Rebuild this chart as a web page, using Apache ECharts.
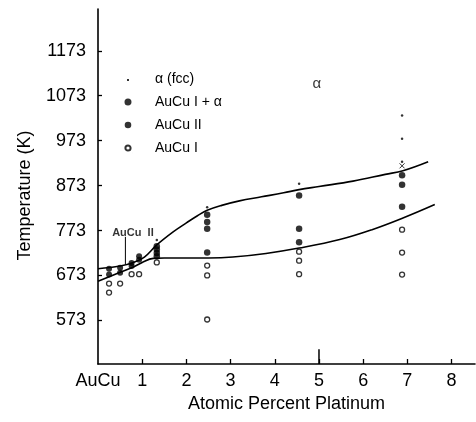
<!DOCTYPE html>
<html>
<head>
<meta charset="utf-8">
<script src="https://cdn.jsdelivr.net/npm/echarts@6/dist/echarts.min.js"></script>
<style>
html,body{margin:0;padding:0;background:#fff;}
#chart{width:476px;height:422px;}
</style>
</head>
<body>
<div id="chart"></div>
<script>
// ---- data ----
const xTicks = [0, 1, 2, 3, 4, 5, 6, 7, 8];
const xTickLabels = ['AuCu', '1', '2', '3', '4', '5', '6', '7', '8'];
const yTicks = [573, 673, 773, 873, 973, 1073, 1173];

const alphaFcc = [[1.33, 752], [2.47, 825], [4.55, 877], [6.88, 1029], [6.88, 977], [6.88, 926]];
const auCuIAlpha = [[1.33, 738], [1.33, 731], [1.33, 723], [1.33, 716], [2.47, 808], [2.47, 792], [2.47, 777], [2.47, 724],
  [4.55, 851], [4.55, 777], [4.55, 747], [6.88, 896], [6.88, 875], [6.88, 826]];
const auCuII = [[0.25, 688], [0.25, 675], [0.5, 690], [0.5, 679], [0.76, 701], [0.76, 694], [0.93, 708], [0.93, 716]];
const auCuI = [[0.25, 655], [0.25, 635], [0.5, 655], [0.76, 676], [0.93, 676], [1.33, 702], [2.47, 695], [2.47, 673], [2.47, 575],
  [4.55, 726], [4.55, 706], [4.55, 676], [6.88, 775], [6.88, 724], [6.88, 675]];
const crossMarks = [[6.88, 917]];

const upperBoundary = [[0, 688], [0.5, 694], [0.8, 702], [1.05, 714], [1.33, 741], [1.7, 770], [2.0, 790], [2.25, 806], [2.47, 818],
  [2.8, 829], [3.2, 839], [3.7, 848], [4.2, 857], [4.55, 864], [5.0, 871], [5.77, 883], [6.5, 898], [6.9, 906], [7.47, 926]];
const lowerBoundary = [[0, 660], [0.5, 680], [0.76, 690], [1.0, 702], [1.25, 711], [1.5, 712], [2.0, 712], [2.5, 712], [3.05, 714],
  [3.8, 722], [4.55, 734], [5.47, 753], [6.2, 775], [6.9, 801], [7.62, 831]];

const pointerLine = [[0.62, 759], [0.62, 697]];
const pointerLabel = [[0.79, 768]];
const phaseLabel = [[4.95, 1099]];
const longTick = [[5, 476], [5, 509]];

// ---- chart ----
const FONT = '"Liberation Sans", Arial, Helvetica, sans-serif';
const chart = echarts.init(document.getElementById('chart'), null, {renderer: 'canvas'});

function lineSeries(data, name) {
  return {
    type: 'line', name: name, data: data, smooth: 0.4, showSymbol: false, symbol: 'none',
    lineStyle: {color: '#000', width: 1.6}, silent: true, z: 3
  };
}

const option = {
  backgroundColor: '#fff',
  animation: false,
  grid: {left: 98, right: 1, top: 9, bottom: 58, containLabel: false},
  legend: {
    orient: 'vertical', left: 117, top: 67, itemWidth: 10, itemHeight: 10, itemGap: 9,
    textStyle: {fontFamily: FONT, fontSize: 14, color: '#000', lineHeight: 14, padding: [0, 0, 0, 17]},
    data: [
      {name: 'α (fcc)', icon: 'path://M0,0L0.01,0M10,10L9.99,10M4,5L6,5L6,7L4,7Z'},
      {name: 'AuCu I + α', icon: 'path://M0,0L0.01,0M10,10L9.99,10M5,1.5A3.5,3.5,0,1,1,4.99,1.5Z'},
      {name: 'AuCu II', icon: 'path://M0,0L0.01,0M10,10L9.99,10M5,1.7A3.3,3.3,0,1,1,4.99,1.7Z'},
      {name: 'AuCu I', icon: 'path://M0,0L0.01,0M10,10L9.99,10M5,2.4A2.6,2.6,0,1,1,4.99,2.4Z'}
    ]
  },
  xAxis: {
    type: 'value', min: 0, max: 8.53,
    name: 'Atomic Percent Platinum', nameLocation: 'middle', nameGap: 27,
    nameTextStyle: {fontFamily: FONT, fontSize: 18, color: '#000'},
    axisLine: {show: true, onZero: false, lineStyle: {color: '#000', width: 1.6}},
    axisTick: {show: true, inside: true, length: 5, lineStyle: {color: '#000', width: 1.3}, customValues: xTicks.slice(1)},
    axisLabel: {
      fontFamily: FONT, fontSize: 18, color: '#000', margin: 8, customValues: xTicks,
      formatter: function (v) { const i = xTicks.indexOf(v); return i >= 0 ? xTickLabels[i] : ''; }
    },
    splitLine: {show: false}
  },
  yAxis: {
    type: 'value', min: 476, max: 1266,
    name: 'Temperature (K)', nameLocation: 'middle', nameGap: 64, nameRotate: 90,
    nameTextStyle: {fontFamily: FONT, fontSize: 18, color: '#000', padding: [0, 18, 0, 0]},
    axisLine: {show: true, onZero: false, lineStyle: {color: '#000', width: 1.6}},
    axisTick: {show: true, inside: true, length: 4, lineStyle: {color: '#000', width: 1.3}, customValues: yTicks},
    axisLabel: {fontFamily: FONT, fontSize: 18, color: '#000', margin: 12, customValues: yTicks,
      formatter: function (v) { return String(v); }},
    splitLine: {show: false}
  },
  series: [
    lineSeries(upperBoundary, 'upper'),
    lineSeries(lowerBoundary, 'lower'),
    {type: 'line', data: pointerLine, showSymbol: false, symbol: 'none', lineStyle: {color: '#000', width: 1}, silent: true},
    {type: 'line', data: longTick, showSymbol: false, symbol: 'none', lineStyle: {color: '#000', width: 1.5}, silent: true},
    {type: 'scatter', name: 'α (fcc)', data: alphaFcc, symbol: 'circle', symbolSize: 2.5,
      itemStyle: {color: '#000'}, z: 5},
    {type: 'scatter', name: 'AuCu I + α', data: auCuIAlpha, symbol: 'circle', symbolSize: 6.5,
      itemStyle: {color: '#000'}, z: 5},
    {type: 'scatter', name: 'AuCu II', data: auCuII, symbol: 'circle', symbolSize: 6,
      itemStyle: {color: '#000'}, z: 5},
    {type: 'scatter', name: 'AuCu I', data: auCuI, symbol: 'circle', symbolSize: 5,
      itemStyle: {color: '#fff', borderColor: '#000', borderWidth: 1.3}, z: 5},
    {type: 'scatter', name: 'cross', data: crossMarks, symbol: 'path://M0,0L10,10M10,0L0,10', symbolSize: 5,
      itemStyle: {color: 'none', borderColor: '#000', borderWidth: 1}, z: 5},
    {type: 'scatter', name: 'lblAuCuII', data: pointerLabel, symbolSize: 0, silent: true,
      label: {show: true, position: 'inside', formatter: 'AuCu  II', fontFamily: FONT, fontSize: 11, fontWeight: 600, color: '#000'}},
    {type: 'scatter', name: 'lblAlpha', data: phaseLabel, symbolSize: 0, silent: true,
      label: {show: true, position: 'inside', formatter: 'α', fontFamily: FONT, fontSize: 15, color: '#000'}}
  ]
};
chart.setOption(option);
</script>
</body>
</html>
